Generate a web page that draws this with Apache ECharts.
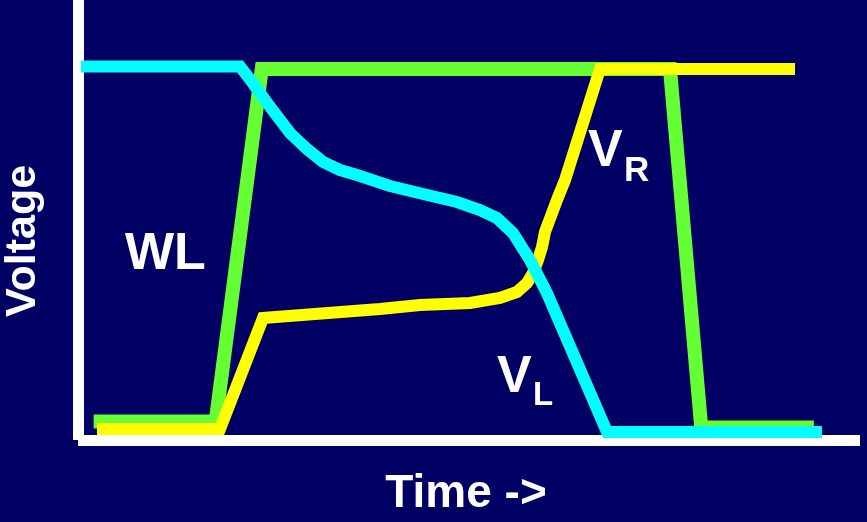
<!DOCTYPE html>
<html>
<head>
<meta charset="utf-8">
<script src="https://cdn.jsdelivr.net/npm/echarts@6/dist/echarts.min.js"></script>
<style>
  html, body { margin: 0; padding: 0; background: #000064; }
  #main { width: 867px; height: 522px; }
</style>
</head>
<body>
<div id="main"></div>
<script>
// time (0-100) / voltage (0-1.1)
var wlData = [[2.0, 0.046], [17.6, 0.046], [23.5, 0.9275], [75.7, 0.9275], [79.7, 0.031], [94.1, 0.031]];
var vrData = [[2.43, 0.0275], [18.16, 0.0275], [23.66, 0.305], [38.62, 0.3275], [43.73, 0.3375],
              [50.13, 0.3425], [53.96, 0.355], [56.14, 0.37], [57.42, 0.3925], [58.18, 0.4175],
              [58.82, 0.45], [59.34, 0.4825], [59.72, 0.52], [61.25, 0.6], [62.28, 0.65],
              [66.75, 0.9275], [91.69, 0.9275]];
var vlData = [[0.38, 0.934], [20.72, 0.934], [21.87, 0.905], [23.27, 0.8675], [24.68, 0.83],
              [27.11, 0.7675], [29.28, 0.7275], [31.33, 0.695], [33.5, 0.675], [35.68, 0.6625],
              [39.9, 0.635], [44.12, 0.615], [48.47, 0.595], [51.41, 0.575], [53.58, 0.555],
              [55.63, 0.5175], [57.8, 0.45], [59.97, 0.3675], [67.65, 0.02], [95.14, 0.02]];

var fontFam = '"Liberation Sans", Arial, sans-serif';

var chart = echarts.init(document.getElementById('main'));

option = {
    backgroundColor: '#000064',
    animation: false,
    grid: { left: 78, right: 7, top: 0, bottom: 82 },
    xAxis: {
        type: 'value',
        min: 0,
        max: 100,
        axisLine: { show: true, lineStyle: { color: '#fff', width: 11, cap: 'butt' } },
        axisTick: { show: false },
        axisLabel: { show: false },
        splitLine: { show: false }
    },
    yAxis: {
        type: 'value',
        min: 0,
        max: 1.1,
        axisLine: { show: true, lineStyle: { color: '#fff', width: 11, cap: 'butt' } },
        axisTick: { show: false },
        axisLabel: { show: false },
        splitLine: { show: false }
    },
    graphic: [
        { type: 'text', x: 23, y: 241, rotation: Math.PI / 2,
          style: { text: 'Voltage', fill: '#fff', font: 'bold 43px ' + fontFam, align: 'center', verticalAlign: 'middle' } },
        { type: 'text', x: 466, y: 494,
          style: { text: 'Time ->', fill: '#fff', font: 'bold 46px ' + fontFam, align: 'center', verticalAlign: 'middle' } },
        { type: 'text', x: 125, y: 255,
          style: { text: 'WL', fill: '#fff', font: 'bold 52px ' + fontFam, align: 'left', verticalAlign: 'middle' } },
        { type: 'text', x: 588, y: 152,
          style: { text: 'V', fill: '#fff', font: 'bold 52px ' + fontFam, align: 'left', verticalAlign: 'middle' } },
        { type: 'text', x: 624, y: 171,
          style: { text: 'R', fill: '#fff', font: 'bold 35px ' + fontFam, align: 'left', verticalAlign: 'middle' } },
        { type: 'text', x: 497, y: 378,
          style: { text: 'V', fill: '#fff', font: 'bold 52px ' + fontFam, align: 'left', verticalAlign: 'middle' } },
        { type: 'text', x: 533, y: 396,
          style: { text: 'L', fill: '#fff', font: 'bold 33px ' + fontFam, align: 'left', verticalAlign: 'middle' } }
    ],
    series: [
        {
            name: 'WL', type: 'line', data: wlData, showSymbol: false,
            lineStyle: { color: '#66ff33', width: 14, cap: 'butt', join: 'miter' }
        },
        {
            name: 'VR', type: 'line', data: vrData, showSymbol: false,
            lineStyle: { color: '#ffff00', width: 12, cap: 'butt', join: 'miter' }
        },
        {
            name: 'VL', type: 'line', data: vlData, showSymbol: false,
            lineStyle: { color: '#00ffff', width: 12, cap: 'butt', join: 'miter' }
        }
    ]
};

chart.setOption(option);
</script>
</body>
</html>
